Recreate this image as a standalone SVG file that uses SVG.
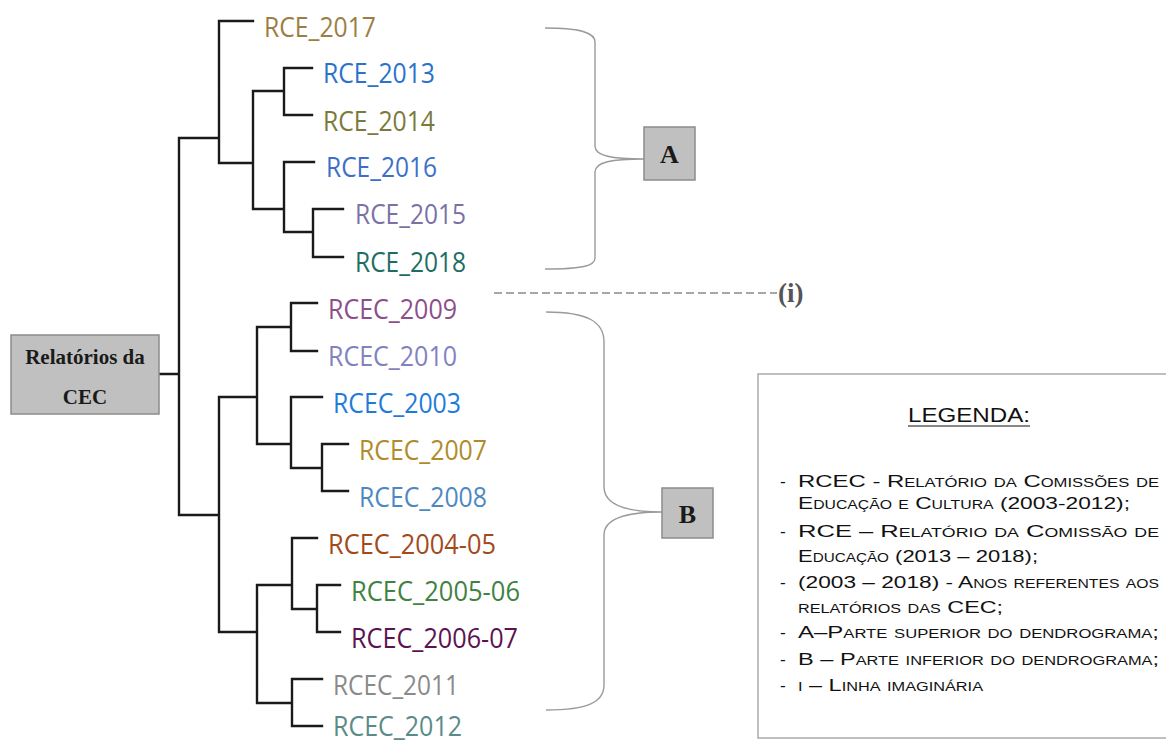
<svg xmlns="http://www.w3.org/2000/svg" width="1166" height="743" viewBox="0 0 1166 743">
<style>
.tree{fill:none;stroke:#1a1a1a;stroke-width:2.4;stroke-linecap:square}
.brace{fill:none;stroke:#9a9a9a;stroke-width:1.4}
.box{fill:#c0c0c0;stroke:#8c8c8c;stroke-width:1.5}
.lbl{font-family:"Open Sans","Noto Sans",sans-serif;font-size:27px}
.serif{font-family:"Liberation Serif","Times New Roman",serif;font-weight:bold;fill:#1a1a1a}
.leg{font-family:"Liberation Sans",Arial,sans-serif;font-size:17.3px;fill:#111;font-variant:small-caps}
</style>
<rect width="1166" height="743" fill="#fff"/>

<g id="connectors">
<path class="tree" d="M159,374 H179 M179,138 V515
M179,138 H219 M219,21 V163 M219,21 H253
M219,163 H253 M253,91 V209
M253,91 H284 M284,68 V115 M284,68 H312 M284,115 H312
M253,209 H284 M284,162 V232 M284,162 H314 M284,232 H313 M313,209 V257 M313,209 H343 M313,257 H343
M179,515 H219 M219,397 V632
M219,397 H257 M257,327 V444
M257,327 H291 M291,303 V351 M291,303 H317 M291,351 H317
M257,444 H291 M291,397 V468 M291,397 H322 M291,468 H322 M322,444 V491 M322,444 H348 M322,491 H348
M219,632 H257 M257,585 V703
M257,585 H292 M292,538 V609 M292,538 H317 M292,609 H317 M317,585 V632 M317,585 H340 M317,632 H340
M257,703 H292 M292,679 V726 M292,679 H322 M292,726 H322"/>
<path id="brace-A" class="brace" d="M545,28 C582,28 595,33 595,42 L595,146 C595,156 612,159 644,159 M644,159 C612,159 595,162 595,172 L595,258 C595,266 582,269 545,269"/>
<path id="brace-B" class="brace" d="M546,312 C588,312 604,322 604,342 L604,487 C604,505 628,512 662,512 M662,512 C628,512 604,518 604,535 L604,685 C604,702 588,710 546,710"/>
<line id="line-i" x1="494" y1="293" x2="777" y2="293" stroke="#8a8a8a" stroke-width="1.3" stroke-dasharray="8 4"/>
</g>

<g id="root">
<rect class="box" x="11" y="335" width="148" height="79"/>
<text class="serif" x="85" y="364" font-size="21" text-anchor="middle">Relatórios da</text>
<text class="serif" x="85" y="404" font-size="21" text-anchor="middle">CEC</text>
</g>

<g id="leaves">
<text id="rce2017" class="lbl" x="264" y="37" fill="#9c7e45" textLength="112" lengthAdjust="spacingAndGlyphs">RCE_2017</text>
<text id="rce2013" class="lbl" x="323" y="83" fill="#2b73c9" textLength="112" lengthAdjust="spacingAndGlyphs">RCE_2013</text>
<text id="rce2014" class="lbl" x="323" y="131" fill="#7b7a3c" textLength="112" lengthAdjust="spacingAndGlyphs">RCE_2014</text>
<text id="rce2016" class="lbl" x="326" y="177" fill="#3d6fc9" textLength="111" lengthAdjust="spacingAndGlyphs">RCE_2016</text>
<text id="rce2015" class="lbl" x="355" y="224" fill="#7a72a6" textLength="111" lengthAdjust="spacingAndGlyphs">RCE_2015</text>
<text id="rce2018" class="lbl" x="355" y="272" fill="#1d6e62" textLength="111" lengthAdjust="spacingAndGlyphs">RCE_2018</text>
<text id="rcec2009" class="lbl" x="328" y="319" fill="#8c4f8c" textLength="129" lengthAdjust="spacingAndGlyphs">RCEC_2009</text>
<text id="rcec2010" class="lbl" x="328" y="366" fill="#8282c2" textLength="129" lengthAdjust="spacingAndGlyphs">RCEC_2010</text>
<text id="rcec2003" class="lbl" x="333" y="413" fill="#1f7bdb" textLength="128" lengthAdjust="spacingAndGlyphs">RCEC_2003</text>
<text id="rcec2007" class="lbl" x="359" y="460" fill="#b08a2c" textLength="128" lengthAdjust="spacingAndGlyphs">RCEC_2007</text>
<text id="rcec2008" class="lbl" x="359" y="507" fill="#4d88c2" textLength="128" lengthAdjust="spacingAndGlyphs">RCEC_2008</text>
<text id="rcec200405" class="lbl" x="328" y="554" fill="#a24a1c" textLength="168" lengthAdjust="spacingAndGlyphs">RCEC_2004-05</text>
<text id="rcec200506" class="lbl" x="351" y="601" fill="#418243" textLength="169" lengthAdjust="spacingAndGlyphs">RCEC_2005-06</text>
<text id="rcec200607" class="lbl" x="351" y="648" fill="#5b1252" textLength="167" lengthAdjust="spacingAndGlyphs">RCEC_2006-07</text>
<text id="rcec2011" class="lbl" x="333" y="695" fill="#8a8a8a" textLength="126" lengthAdjust="spacingAndGlyphs">RCEC_2011</text>
<text id="rcec2012" class="lbl" x="333" y="736" fill="#5b8b89" textLength="129" lengthAdjust="spacingAndGlyphs">RCEC_2012</text>
</g>

<g id="group-A">
<rect class="box" x="644" y="127" width="51" height="53"/>
<text class="serif" x="669.5" y="163" font-size="26" text-anchor="middle">A</text>
</g>
<g id="group-B">
<rect class="box" x="662" y="488" width="51" height="50"/>
<text class="serif" x="687.5" y="523" font-size="26" text-anchor="middle">B</text>
</g>
<g id="label-i">
<text class="serif" x="778" y="302" font-size="27" style="fill:#555">(i)</text>
</g>

<g id="legend">
<rect x="758" y="374" width="420" height="364" fill="#fff" stroke="#ababab" stroke-width="1.5"/>
<text x="908" y="422" font-family="Liberation Sans, Arial, sans-serif" font-size="20" fill="#111" textLength="122" lengthAdjust="spacingAndGlyphs">LEGENDA:</text>
<line x1="908" y1="426" x2="1030" y2="426" stroke="#111" stroke-width="1.2"/>
<g class="leg">
<text x="780" y="487">-</text>
<text x="798" y="487" textLength="361" lengthAdjust="spacingAndGlyphs">RCEC - Relatório da Comissões de</text>
<text x="798" y="509" textLength="332" lengthAdjust="spacingAndGlyphs">Educação e Cultura (2003-2012);</text>
<text x="780" y="537">-</text>
<text x="798" y="537" textLength="361" lengthAdjust="spacingAndGlyphs">RCE – Relatório da Comissão de</text>
<text x="798" y="562" textLength="240" lengthAdjust="spacingAndGlyphs">Educação (2013 – 2018);</text>
<text x="780" y="588">-</text>
<text x="798" y="588" textLength="361" lengthAdjust="spacingAndGlyphs">(2003 – 2018) - Anos referentes aos</text>
<text x="798" y="613" textLength="205" lengthAdjust="spacingAndGlyphs">relatórios das CEC;</text>
<text x="780" y="638">-</text>
<text x="798" y="638" textLength="361" lengthAdjust="spacingAndGlyphs">A–Parte superior do dendrograma;</text>
<text x="780" y="665">-</text>
<text x="798" y="665" textLength="361" lengthAdjust="spacingAndGlyphs">B – Parte inferior do dendrograma;</text>
<text x="780" y="691">-</text>
<text x="798" y="691" textLength="185" lengthAdjust="spacingAndGlyphs">i – Linha imaginária</text>
</g>
</g>
</svg>
